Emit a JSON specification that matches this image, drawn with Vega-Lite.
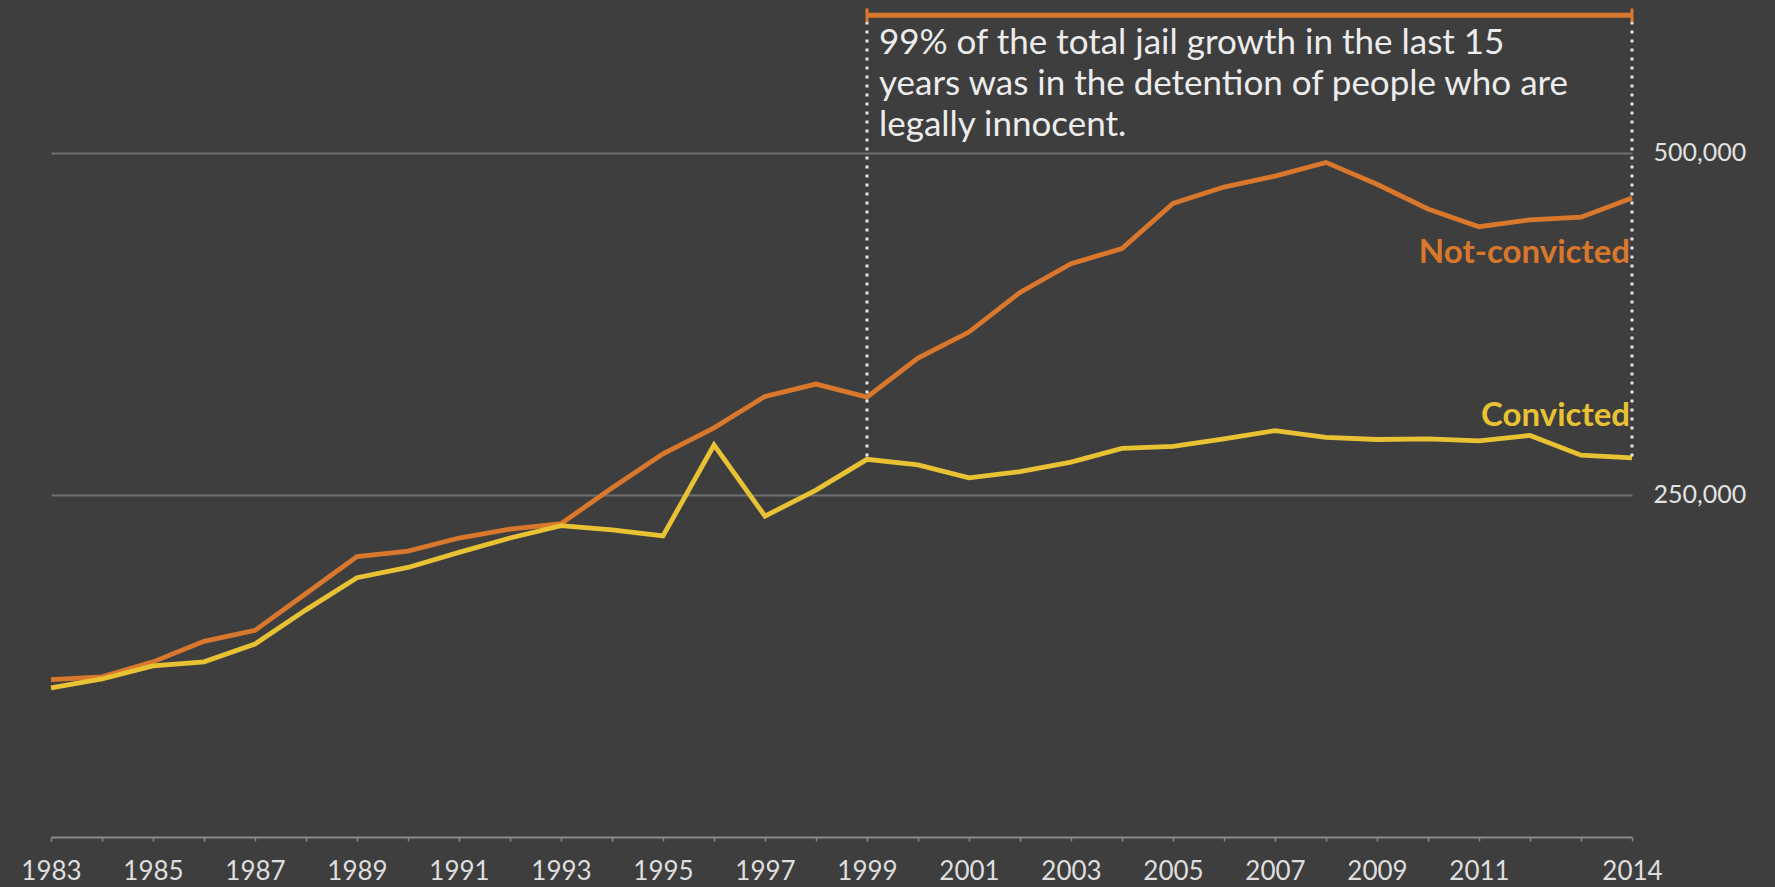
{
  "$schema": "https://vega.github.io/schema/vega-lite/v6.json",
  "width": 1581,
  "height": 821,
  "autosize": {"type": "none"},
  "padding": {"left": 51, "top": 16, "right": 143, "bottom": 50},
  "background": "#3e3e3e",
  "config": {"view": {"stroke": null}, "font": "Lato"},
  "datasets": {
    "series": [
      {"year": 1983, "series": "Not-convicted", "value": 115000},
      {"year": 1984, "series": "Not-convicted", "value": 117000},
      {"year": 1985, "series": "Not-convicted", "value": 128000},
      {"year": 1986, "series": "Not-convicted", "value": 143000},
      {"year": 1987, "series": "Not-convicted", "value": 151000},
      {"year": 1988, "series": "Not-convicted", "value": 178000},
      {"year": 1989, "series": "Not-convicted", "value": 205000},
      {"year": 1990, "series": "Not-convicted", "value": 209000},
      {"year": 1991, "series": "Not-convicted", "value": 218500},
      {"year": 1992, "series": "Not-convicted", "value": 225000},
      {"year": 1993, "series": "Not-convicted", "value": 229000},
      {"year": 1994, "series": "Not-convicted", "value": 255000},
      {"year": 1995, "series": "Not-convicted", "value": 280000},
      {"year": 1996, "series": "Not-convicted", "value": 299000},
      {"year": 1997, "series": "Not-convicted", "value": 322000},
      {"year": 1998, "series": "Not-convicted", "value": 331000},
      {"year": 1999, "series": "Not-convicted", "value": 321500},
      {"year": 2000, "series": "Not-convicted", "value": 350000},
      {"year": 2001, "series": "Not-convicted", "value": 369000},
      {"year": 2002, "series": "Not-convicted", "value": 398000},
      {"year": 2003, "series": "Not-convicted", "value": 419000},
      {"year": 2004, "series": "Not-convicted", "value": 430000},
      {"year": 2005, "series": "Not-convicted", "value": 463000},
      {"year": 2006, "series": "Not-convicted", "value": 475000},
      {"year": 2007, "series": "Not-convicted", "value": 483000},
      {"year": 2008, "series": "Not-convicted", "value": 493000},
      {"year": 2009, "series": "Not-convicted", "value": 477000},
      {"year": 2010, "series": "Not-convicted", "value": 459000},
      {"year": 2011, "series": "Not-convicted", "value": 446000},
      {"year": 2012, "series": "Not-convicted", "value": 451000},
      {"year": 2013, "series": "Not-convicted", "value": 453000},
      {"year": 2014, "series": "Not-convicted", "value": 467000},
      {"year": 1983, "series": "Convicted", "value": 109000},
      {"year": 1984, "series": "Convicted", "value": 115500},
      {"year": 1985, "series": "Convicted", "value": 125000},
      {"year": 1986, "series": "Convicted", "value": 128000},
      {"year": 1987, "series": "Convicted", "value": 141000},
      {"year": 1988, "series": "Convicted", "value": 166000},
      {"year": 1989, "series": "Convicted", "value": 189500},
      {"year": 1990, "series": "Convicted", "value": 197000},
      {"year": 1991, "series": "Convicted", "value": 208000},
      {"year": 1992, "series": "Convicted", "value": 218500},
      {"year": 1993, "series": "Convicted", "value": 227500},
      {"year": 1994, "series": "Convicted", "value": 224500},
      {"year": 1995, "series": "Convicted", "value": 220000},
      {"year": 1996, "series": "Convicted", "value": 286500},
      {"year": 1997, "series": "Convicted", "value": 234500},
      {"year": 1998, "series": "Convicted", "value": 253500},
      {"year": 1999, "series": "Convicted", "value": 276000},
      {"year": 2000, "series": "Convicted", "value": 272000},
      {"year": 2001, "series": "Convicted", "value": 262500},
      {"year": 2002, "series": "Convicted", "value": 267000},
      {"year": 2003, "series": "Convicted", "value": 274000},
      {"year": 2004, "series": "Convicted", "value": 284000},
      {"year": 2005, "series": "Convicted", "value": 285500},
      {"year": 2006, "series": "Convicted", "value": 291000},
      {"year": 2007, "series": "Convicted", "value": 297000},
      {"year": 2008, "series": "Convicted", "value": 292000},
      {"year": 2009, "series": "Convicted", "value": 290500},
      {"year": 2010, "series": "Convicted", "value": 291000},
      {"year": 2011, "series": "Convicted", "value": 289500},
      {"year": 2012, "series": "Convicted", "value": 293500},
      {"year": 2013, "series": "Convicted", "value": 279000},
      {"year": 2014, "series": "Convicted", "value": 277000}
    ],
    "labels": [
      {"year": 2014, "value": 426500, "series": "Not-convicted", "text": "Not-convicted"},
      {"year": 2014, "value": 307500, "series": "Convicted", "text": "Convicted"}
    ],
    "note": [
      {"year": 1999, "value": 580500, "text": "99% of the total jail growth in the last 15"},
      {"year": 1999, "value": 550000, "text": "years was in the detention of people who are"},
      {"year": 1999, "value": 520000, "text": "legally innocent."}
    ],
    "bracket": [{"start": 1999, "end": 2014, "value": 600500}],
    "caps": [
      {"year": 1999, "lo": 595500, "hi": 605500},
      {"year": 2014, "lo": 595500, "hi": 605500}
    ],
    "guides": [
      {"year": 1999, "top": 596000, "bottom": 276000},
      {"year": 2014, "top": 596000, "bottom": 277000}
    ]
  },
  "layer": [
    {
      "data": {"name": "series"},
      "mark": {"type": "line", "strokeWidth": 4.8, "strokeJoin": "miter"},
      "encoding": {
        "x": {
          "field": "year",
          "type": "quantitative",
          "scale": {"domain": [1983, 2014], "nice": false, "zero": false},
          "axis": {
            "title": null,
            "grid": false,
            "values": [1983,1984,1985,1986,1987,1988,1989,1990,1991,1992,1993,1994,1995,1996,1997,1998,1999,2000,2001,2002,2003,2004,2005,2006,2007,2008,2009,2010,2011,2012,2013,2014],
            "format": "d",
            "labelExpr": "(datum.value % 2 == 1 && datum.value != 2013) || datum.value == 2014 ? datum.label : ''",
            "labelFlush": false,
            "labelOverlap": false,
            "domainColor": "#8a8a8a",
            "domainWidth": 2,
            "tickColor": "#8a8a8a",
            "tickSize": 4,
            "tickWidth": 1.5,
            "labelColor": "#dedede",
            "labelFontSize": 26,
            "labelPadding": 17
          }
        },
        "y": {
          "field": "value",
          "type": "quantitative",
          "scale": {"domain": [0, 600000], "nice": false},
          "axis": {
            "title": null,
            "orient": "right",
            "values": [250000, 500000],
            "format": ",.0f",
            "grid": true,
            "gridColor": "#707070",
            "gridWidth": 2,
            "domain": false,
            "ticks": false,
            "labelPadding": 21,
            "labelColor": "#e2e2e2",
            "labelFontSize": 25
          }
        },
        "color": {
          "field": "series",
          "type": "nominal",
          "scale": {"domain": ["Not-convicted", "Convicted"], "range": ["#d9782c", "#e9c234"]},
          "legend": null
        }
      }
    },
    {
      "data": {"name": "guides"},
      "mark": {"type": "rule", "color": "#e6e6e6", "strokeWidth": 3, "strokeDash": [3, 6]},
      "encoding": {
        "x": {"field": "year", "type": "quantitative"},
        "y": {"field": "top", "type": "quantitative"},
        "y2": {"field": "bottom"}
      }
    },
    {
      "data": {"name": "bracket"},
      "mark": {"type": "rule", "color": "#d9782c", "strokeWidth": 5},
      "encoding": {
        "x": {"field": "start", "type": "quantitative"},
        "x2": {"field": "end"},
        "y": {"field": "value", "type": "quantitative"}
      }
    },
    {
      "data": {"name": "caps"},
      "mark": {"type": "rule", "color": "#d9782c", "strokeWidth": 3},
      "encoding": {
        "x": {"field": "year", "type": "quantitative"},
        "y": {"field": "lo", "type": "quantitative"},
        "y2": {"field": "hi"}
      }
    },
    {
      "data": {"name": "note"},
      "mark": {"type": "text", "align": "left", "baseline": "middle", "dx": 12, "fontSize": 35, "letterSpacing": 2.5, "color": "#ececec"},
      "encoding": {
        "x": {"field": "year", "type": "quantitative"},
        "y": {"field": "value", "type": "quantitative"},
        "text": {"field": "text"}
      }
    },
    {
      "data": {"name": "labels"},
      "mark": {"type": "text", "align": "right", "baseline": "middle", "dx": -2, "fontSize": 33, "letterSpacing": 2, "fontWeight": "bold"},
      "encoding": {
        "x": {"field": "year", "type": "quantitative"},
        "y": {"field": "value", "type": "quantitative"},
        "text": {"field": "text"},
        "color": {"field": "series", "type": "nominal", "legend": null}
      }
    }
  ]
}
